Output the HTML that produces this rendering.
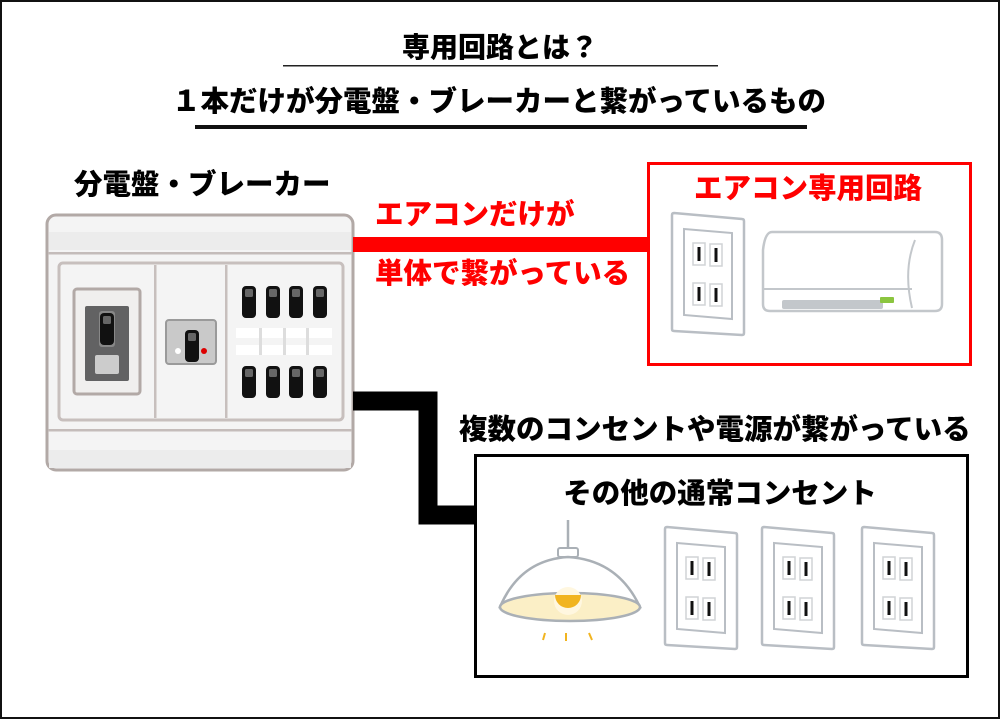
<!DOCTYPE html>
<html><head><meta charset="utf-8"><style>
html,body{margin:0;padding:0;background:#fff}
svg{display:block}
text{font-family:"Liberation Sans","Noto Sans CJK JP",sans-serif;font-weight:900}
</style></head><body>
<svg width="1000" height="719" viewBox="0 0 1000 719" xmlns="http://www.w3.org/2000/svg">
<defs>
<g id="outlet">
  <path d="M2 0 L70 6 Q72 6 72 8 L72 120 Q72 122 70 122 L2 118 Q0 118 0 116 L0 2 Q0 0 2 0Z" fill="#fff" stroke="#b9bec4" stroke-width="2.5"/>
  <path d="M12 16 L60 20 L60 106 L12 102Z" fill="#fff" stroke="#b9bec4" stroke-width="2"/>
  <rect x="21" y="30" width="12" height="22" fill="#fff" stroke="#d0d3d6" stroke-width="1.5"/>
  <rect x="38" y="31" width="12" height="22" fill="#fff" stroke="#d0d3d6" stroke-width="1.5"/>
  <rect x="21" y="70" width="12" height="22" fill="#fff" stroke="#d0d3d6" stroke-width="1.5"/>
  <rect x="38" y="71" width="12" height="22" fill="#fff" stroke="#d0d3d6" stroke-width="1.5"/>
  <rect x="25.5" y="34" width="3" height="14" fill="#111"/>
  <rect x="42.5" y="35" width="3" height="14" fill="#111"/>
  <rect x="25.5" y="74" width="3" height="14" fill="#111"/>
  <rect x="42.5" y="75" width="3" height="14" fill="#111"/>
</g>
<g id="sw"><rect x="0" y="0" width="14" height="32" rx="4" fill="#111"/><rect x="3" y="3" width="8" height="8" rx="1.5" fill="#666"/></g>
</defs>
<rect x="1" y="1" width="998" height="717" fill="#fff" stroke="#111" stroke-width="2"/>

<text x="500" y="57" font-size="28" text-anchor="middle">専用回路とは？</text>
<rect x="283" y="65" width="435" height="1.5" fill="#222"/>
<text x="499" y="111" font-size="28.5" text-anchor="middle">１本だけが分電盤・ブレーカーと繋がっているもの</text>
<rect x="195" y="125" width="612" height="4" fill="#111"/>

<text x="74" y="194" font-size="28.5">分電盤・ブレーカー</text>

<!-- panel -->
<rect x="47" y="215" width="306" height="255" rx="9" fill="#f4f4f4" stroke="#b2a9a6" stroke-width="3"/>
<rect x="49" y="232" width="302" height="18" fill="#ececec"/>
<rect x="48" y="252" width="304" height="2.5" fill="#c4bcba"/>
<rect x="48" y="429" width="304" height="2.5" fill="#c4bcba"/>
<rect x="49" y="450" width="302" height="18" fill="#ececec"/>
<rect x="59" y="263" width="284" height="157" rx="4" fill="#f4f4f4" stroke="#c7bfbd" stroke-width="3"/>
<rect x="154" y="265" width="2.5" height="153" fill="#c7bfbd"/>
<rect x="225" y="265" width="2.5" height="153" fill="#c7bfbd"/>
<rect x="74" y="289" width="66" height="105" rx="3" fill="#f0efee" stroke="#b2a9a6" stroke-width="3"/>
<rect x="85" y="306" width="44" height="75" rx="2" fill="#626263"/>
<rect x="99" y="311" width="16" height="36" rx="3" fill="#888"/>
<use href="#sw" x="100" y="313"/>
<rect x="95" y="355" width="24" height="19" rx="2" fill="#ccc"/>
<rect x="166" y="320" width="50" height="44" rx="3" fill="#c9c9c9" stroke="#9a9a9a" stroke-width="2"/>
<use href="#sw" x="185" y="330"/>
<circle cx="178" cy="351" r="3" fill="#fff"/>
<circle cx="204" cy="351" r="3" fill="#d00"/>
<use href="#sw" x="242" y="286"/><use href="#sw" x="266" y="286"/><use href="#sw" x="289" y="286"/><use href="#sw" x="313" y="286"/>
<use href="#sw" x="242" y="366"/><use href="#sw" x="266" y="366"/><use href="#sw" x="289" y="366"/><use href="#sw" x="313" y="366"/>
<rect x="236" y="328" width="96" height="10" fill="#fff"/><rect x="236" y="345" width="96" height="10" fill="#fff"/>
<rect x="259" y="328" width="3" height="27" fill="#ddd"/><rect x="283" y="328" width="3" height="27" fill="#ddd"/><rect x="306" y="328" width="3" height="27" fill="#ddd"/>

<!-- red connector -->
<rect x="353" y="237" width="296" height="15" fill="#f00"/>
<text x="375" y="224" font-size="28.5" fill="#f00">エアコンだけが</text>
<text x="375" y="283" font-size="28.5" fill="#f00">単体で繋がっている</text>

<!-- red box -->
<rect x="648.5" y="163.5" width="322" height="201" fill="#fff" stroke="#f00" stroke-width="3"/>
<text x="808" y="198" font-size="28.5" fill="#f00" text-anchor="middle">エアコン専用回路</text>
<use href="#outlet" x="672" y="213"/>
<path d="M772 232 L935 232 Q942 232 942 240 L942 304 Q942 311 935 311 L770 311 Q763 311 763 304 L763 250 Q765 232 772 232Z" fill="#fff" stroke="#c3c7cb" stroke-width="2.5"/>
<path d="M763 289 L912 289" stroke="#c3c7cb" stroke-width="2"/>
<path d="M915 240 Q903 270 912 308" fill="none" stroke="#c3c7cb" stroke-width="2"/>
<rect x="782" y="300" width="101" height="9" rx="2" fill="#c3c7cb"/>
<rect x="880" y="297" width="14" height="6" rx="1" fill="#8bc53f"/>

<!-- black connector -->
<path d="M353 401 L428 401 L428 515 L476 515" fill="none" stroke="#000" stroke-width="19" stroke-linejoin="miter"/>

<text x="459" y="439" font-size="28.5">複数のコンセントや電源が繋がっている</text>
<rect x="475.5" y="455.5" width="492" height="221" fill="#fff" stroke="#000" stroke-width="3"/>
<text x="720" y="503" font-size="28.5" text-anchor="middle">その他の通常コンセント</text>

<!-- lamp -->
<line x1="568" y1="520" x2="568" y2="550" stroke="#aab0b6" stroke-width="2.5"/>
<rect x="558" y="548" width="20" height="9" rx="2" fill="#fff" stroke="#aab0b6" stroke-width="2"/>
<path d="M500 607 Q520 560 568 557 Q618 560 640 607Z" fill="#fff" stroke="#aab0b6" stroke-width="2.5"/>
<ellipse cx="570" cy="607" rx="70" ry="14" fill="#fbefc6" stroke="#aab0b6" stroke-width="2.5"/>
<circle cx="568" cy="601" r="14" fill="#fff7e0"/>
<path d="M555 595 A13 13 0 0 0 581 595Z" fill="#f1b420"/>
<line x1="545" y1="633" x2="543" y2="640" stroke="#f1b420" stroke-width="2"/>
<line x1="566" y1="633" x2="566" y2="641" stroke="#f1b420" stroke-width="2"/>
<line x1="589" y1="633" x2="592" y2="640" stroke="#f1b420" stroke-width="2"/>

<use href="#outlet" x="665" y="527"/>
<use href="#outlet" x="762" y="527"/>
<use href="#outlet" x="862" y="527"/>
</svg>
</body></html>
